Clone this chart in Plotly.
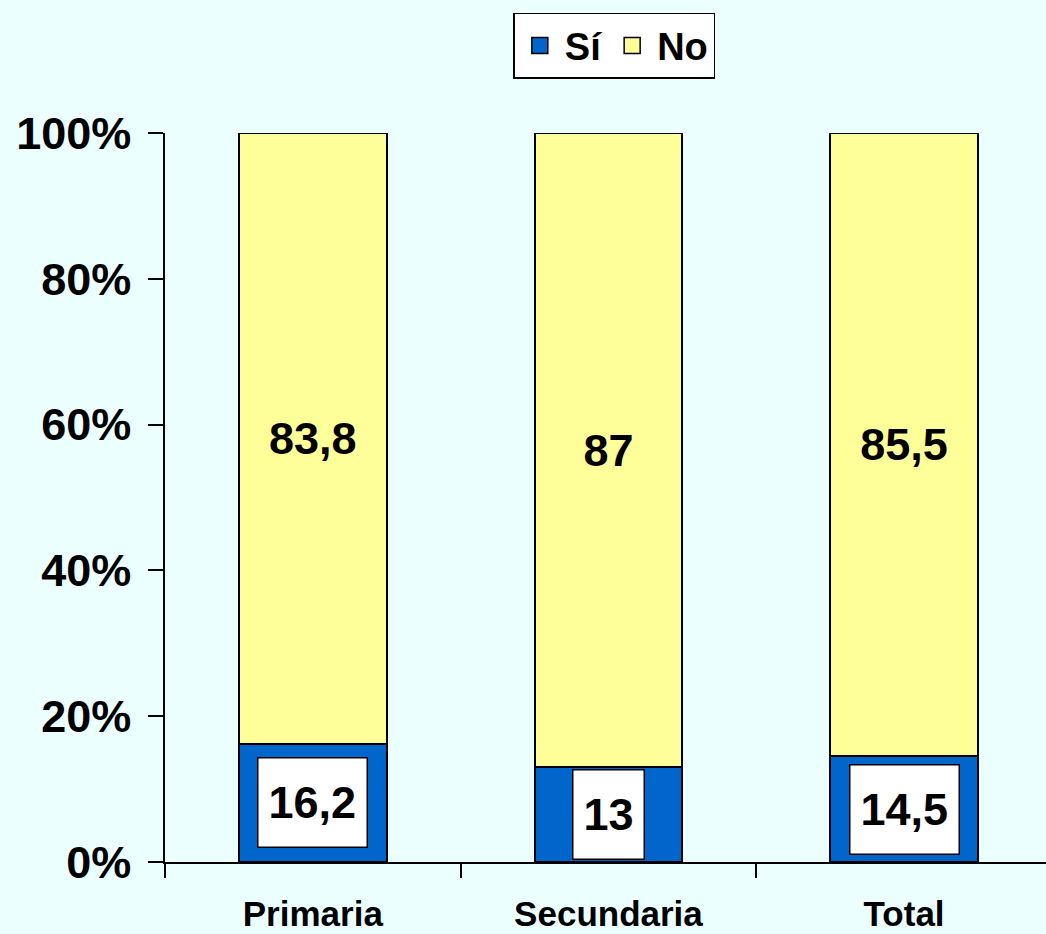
import plotly.graph_objects as go

categorias = ["Primaria", "Secundaria", "Total"]
si = [16.2, 13, 14.5]
no = [83.8, 87, 85.5]
si_txt = ["16,2", "13", "14,5"]
no_txt = ["83,8", "87", "85,5"]
yticks = [0, 20, 40, 60, 80, 100]

FONT = "Arial, Liberation Sans, sans-serif"
AZUL = "#0066CC"
AMARILLO = "#FFFF99"

fig = go.Figure()
fig.add_trace(go.Bar(
    x=categorias, y=si, name="Sí", showlegend=False,
    marker=dict(color=AZUL, line=dict(color="black", width=2)),
))
fig.add_trace(go.Bar(
    x=categorias, y=no, name="No", showlegend=False,
    marker=dict(color=AMARILLO, line=dict(color="black", width=2)),
    text=no_txt, textposition="inside", insidetextanchor="middle",
    textfont=dict(size=45, color="black", family=FONT, weight="bold"),
))

# leyenda con cuadros más grandes
for nombre, color in [("Sí", AZUL), ("No", AMARILLO)]:
    fig.add_trace(go.Scatter(
        x=[None], y=[None], mode="markers", name=nombre,
        marker=dict(symbol="square", size=16, color=color,
                    line=dict(color="black", width=1.5)),
    ))

# etiquetas de "Sí" en recuadro blanco
for c, v, t in zip(categorias, si, si_txt):
    fig.add_annotation(
        x=c, y=v / 2, text=t, showarrow=False,
        font=dict(size=45, color="black", family=FONT, weight="bold"),
        bgcolor="white", bordercolor="black", borderwidth=1.5, borderpad=10,
        height=68,
    )

fig.update_layout(
    barmode="stack", bargap=0.5,
    width=1046, height=934,
    paper_bgcolor="#EBFFFF", plot_bgcolor="#EBFFFF",
    margin=dict(l=165, r=0, t=133, b=72),
    font=dict(family=FONT, color="black", size=35, weight="bold"),
    legend=dict(
        orientation="h", x=0.51, xanchor="center", y=1.165, yanchor="top",
        bgcolor="white", bordercolor="black", borderwidth=1.5,
        font=dict(size=38, family=FONT, weight="bold"),
        itemsizing="trace", itemwidth=40, traceorder="normal",
    ),
)
fig.update_xaxes(
    range=[-0.5, 2.48], showline=True, linecolor="black", linewidth=1.5,
    ticks="outside", ticklen=14, tickcolor="black", tickwidth=1.5,
    tickson="boundaries", ticklabelstandoff=20, automargin=False,
    tickfont=dict(size=35, family=FONT, weight="bold"),
    showgrid=False,
)
fig.update_yaxes(
    range=[0, 100], tickmode="array", tickvals=yticks,
    ticktext=[f"{v}%" for v in yticks],
    showline=True, linecolor="black", linewidth=1.5,
    ticks="outside", ticklen=15, tickcolor="black", tickwidth=1.5,
    ticklabelstandoff=8, automargin=False,
    tickfont=dict(size=45, family=FONT, weight="bold"),
    showgrid=False, zeroline=False,
)

fig.write_html("out.html", config={"displayModeBar": False},
               post_script="document.body.style.margin='0';")
